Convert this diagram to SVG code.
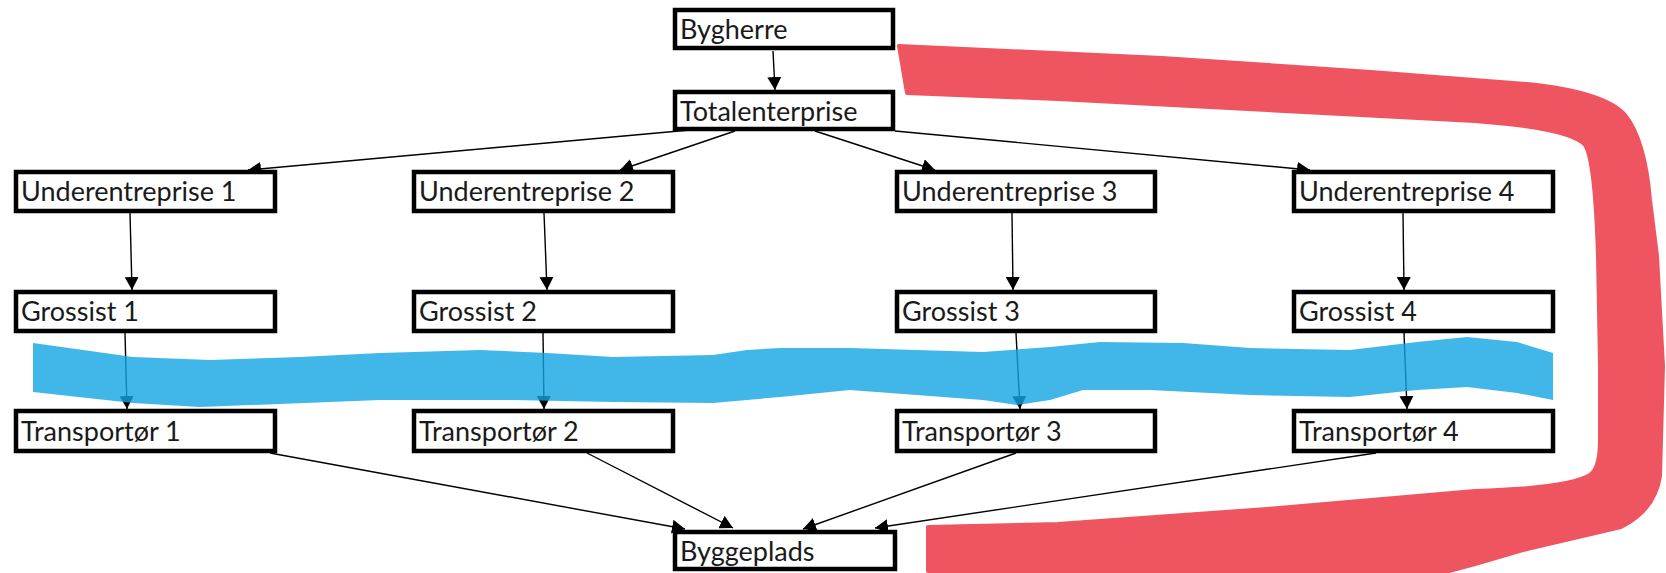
<svg xmlns="http://www.w3.org/2000/svg" width="1666" height="573" viewBox="0 0 1666 573">
<style>
.box{fill:#fff;stroke:#000;stroke-width:4.5}
.lbl{font-family:Lato,"Liberation Sans",sans-serif;font-size:27px;fill:#1a1a1a}
.con{stroke:#000;stroke-width:1.4;fill:none;marker-end:url(#ah)}
</style>
<defs>
<marker id="ah" markerUnits="userSpaceOnUse" markerWidth="14" markerHeight="14" refX="13" refY="7" orient="auto">
<path d="M0,0 L13,7 L0,14 z" fill="#000"/>
</marker>
</defs>
<rect width="1666" height="573" fill="#fff"/>
<g id="connectors">
<line class="con" x1="773" y1="51" x2="775" y2="90"/>
<line class="con" x1="690" y1="130" x2="248" y2="170"/>
<line class="con" x1="735" y1="131" x2="620" y2="170"/>
<line class="con" x1="815" y1="131" x2="935" y2="170"/>
<line class="con" x1="895" y1="131" x2="1310" y2="170"/>
<line class="con" x1="130" y1="213" x2="132" y2="290"/>
<line class="con" x1="544" y1="213" x2="547" y2="290"/>
<line class="con" x1="1012" y1="213" x2="1013" y2="290"/>
<line class="con" x1="1403" y1="213" x2="1404" y2="290"/>
<line class="con" x1="125" y1="333" x2="127" y2="409"/>
<line class="con" x1="543" y1="333" x2="544" y2="409"/>
<line class="con" x1="1016" y1="333" x2="1020" y2="409"/>
<line class="con" x1="1404" y1="333" x2="1407" y2="409"/>
<line class="con" x1="270" y1="453" x2="685" y2="529"/>
<line class="con" x1="587" y1="453" x2="733" y2="528"/>
<line class="con" x1="1016" y1="453" x2="803" y2="529"/>
<line class="con" x1="1376" y1="453" x2="875" y2="528"/>
</g>
<g id="bygherre"><rect class="box" x="675" y="10" width="218" height="38"/><text class="lbl" x="680" y="39">Bygherre</text></g>
<g id="totalenterprise"><rect class="box" x="675" y="92" width="218" height="37"/><text class="lbl" x="680" y="121">Totalenterprise</text></g>
<g id="under1"><rect class="box" x="16" y="172" width="259" height="39"/><text class="lbl" x="21" y="201">Underentreprise 1</text></g>
<g id="under2"><rect class="box" x="414" y="172" width="259" height="39"/><text class="lbl" x="419" y="201">Underentreprise 2</text></g>
<g id="under3"><rect class="box" x="897" y="172" width="258" height="39"/><text class="lbl" x="902" y="201">Underentreprise 3</text></g>
<g id="under4"><rect class="box" x="1294" y="172" width="259" height="39"/><text class="lbl" x="1299" y="201">Underentreprise 4</text></g>
<g id="grossist1"><rect class="box" x="16" y="292" width="259" height="39"/><text class="lbl" x="21" y="321">Grossist 1</text></g>
<g id="grossist2"><rect class="box" x="414" y="292" width="259" height="39"/><text class="lbl" x="419" y="321">Grossist 2</text></g>
<g id="grossist3"><rect class="box" x="897" y="292" width="258" height="39"/><text class="lbl" x="902" y="321">Grossist 3</text></g>
<g id="grossist4"><rect class="box" x="1294" y="292" width="259" height="39"/><text class="lbl" x="1299" y="321">Grossist 4</text></g>
<g id="transportor1"><rect class="box" x="16" y="411" width="259" height="40"/><text class="lbl" x="21" y="441">Transportør 1</text></g>
<g id="transportor2"><rect class="box" x="414" y="411" width="259" height="40"/><text class="lbl" x="419" y="441">Transportør 2</text></g>
<g id="transportor3"><rect class="box" x="897" y="411" width="258" height="40"/><text class="lbl" x="902" y="441">Transportør 3</text></g>
<g id="transportor4"><rect class="box" x="1294" y="411" width="259" height="40"/><text class="lbl" x="1299" y="441">Transportør 4</text></g>
<g id="byggeplads"><rect class="box" x="675" y="532" width="220" height="37"/><text class="lbl" x="680" y="561">Byggeplads</text></g>
<path id="blue-band" fill="rgb(17,164,226)" fill-opacity="0.8" d="M33,343 L133,357 L210,360 L300,357 L380,353 L480,350 L547,353 L613,357 L713,355 L747,350 L780,348 L850,348 L983,352 L1050,347 L1100,342 L1183,343 L1250,348 L1350,350 L1417,342 L1467,337 L1517,342 L1553,353 L1553,400 L1517,393 L1467,387 L1417,390 L1350,397 L1250,395 L1150,390 L1083,390 L1050,400 L1017,405 L983,400 L850,390 L780,397 L713,403 L613,402 L513,400 L380,400 L200,407 L133,403 L33,392 Z"/>
<path id="red-band" fill="#ee5560" stroke="#ee5560" stroke-width="4" stroke-linejoin="round" d="M899,46 L1162,58 L1371,72 L1527,84 Q1605,92 1625,115 Q1645,140 1650,200 L1657,256 L1663,366 L1660,476 Q1655,510 1621,527 L1527,549 L1475,564 L1449,571 L928,571 L928,527 L1058,524 L1267,509 L1475,491 Q1570,488 1590,475 Q1600,468 1600,440 L1600,366 L1598,256 Q1595,160 1585,145 Q1570,128 1475,121 L1267,110 L1058,99 L907,93 Z"/>
</svg>
